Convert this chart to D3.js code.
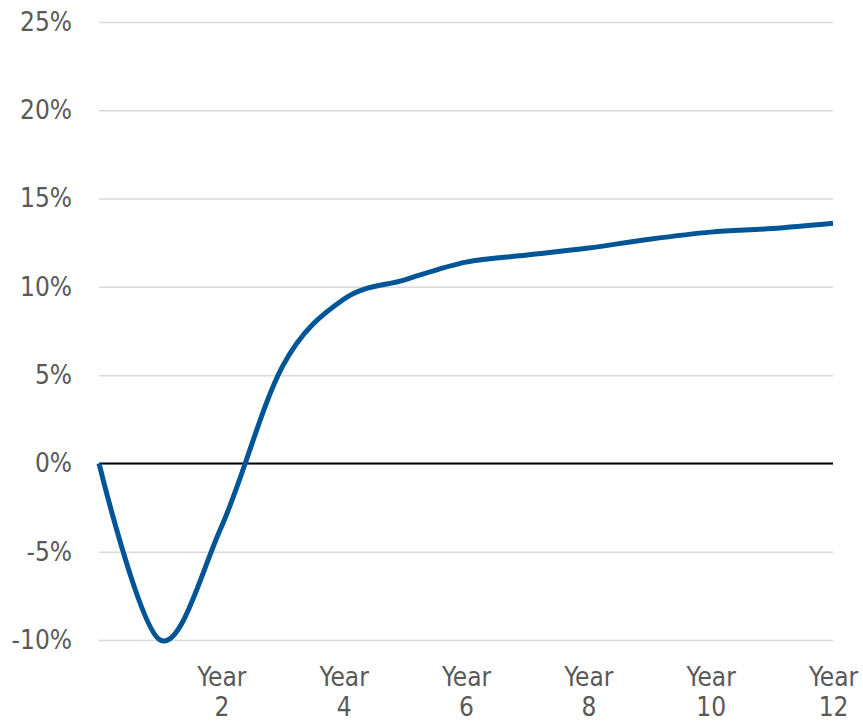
<!DOCTYPE html>
<html>
<head>
<meta charset="utf-8">
<script src="https://cdn.jsdelivr.net/npm/d3@7"></script>
<style>
  html, body { margin: 0; padding: 0; background: #fff; }
  svg { display: block; }
  .tick text { font-family: "DejaVu Sans Condensed", "DejaVu Sans", sans-serif; font-size: 26px; fill: #595959; }
</style>
</head>
<body>
<svg id="chart" width="863" height="721"></svg>
<script>
// Cumulative return by year (percent)
const years = [0, 1, 2, 3, 4, 5, 6, 7, 8, 9, 10, 11, 12];
const returns = [0, -10, -3.6, 5.5, 9.3, 10.4, 11.4, 11.8, 12.2, 12.7, 13.1, 13.3, 13.6];
const xTickYears = [2, 4, 6, 8, 10, 12];
const yTicks = [-10, -5, 0, 5, 10, 15, 20, 25];

const svg = d3.select("#chart");
const plotLeft = 99, plotRight = 833, plotTop = 22, plotBottom = 640;

const x = d3.scaleLinear().domain([0, 12]).range([plotLeft, plotRight]);
const y = d3.scaleLinear().domain([-10, 25]).range([plotBottom, plotTop]);

// Horizontal gridlines
const grid = svg.append("g")
  .attr("transform", `translate(${plotLeft},0)`)
  .call(d3.axisLeft(y).tickValues(yTicks).tickSize(-(plotRight - plotLeft)).tickFormat(""));
grid.select(".domain").remove();
grid.selectAll(".tick line").attr("stroke", "#d9d9d9").attr("stroke-width", 1.5);

// Y axis labels
const yAxis = svg.append("g")
  .attr("transform", `translate(${plotLeft},0)`)
  .call(d3.axisLeft(y).tickValues(yTicks).tickSize(0).tickPadding(27).tickFormat(d => d + "%"));
yAxis.select(".domain").remove();

// Zero baseline
svg.append("line")
  .attr("x1", plotLeft).attr("x2", plotRight)
  .attr("y1", y(0)).attr("y2", y(0))
  .attr("stroke", "#000").attr("stroke-width", 2);

// X axis labels (two lines: "Year" / number)
const xAxis = svg.append("g")
  .attr("transform", `translate(0,${plotBottom})`)
  .call(d3.axisBottom(x).tickValues(xTickYears).tickSize(0).tickFormat(""));
xAxis.select(".domain").remove();
xAxis.selectAll(".tick").each(function(d) {
  const t = d3.select(this).select("text").attr("y", 0).attr("dy", null);
  t.append("tspan").attr("x", 0).attr("y", 46).text("Year");
  t.append("tspan").attr("x", 0).attr("y", 76).text(d);
});

// Return line
const line = d3.line()
  .x((d, i) => x(years[i]))
  .y(d => y(d))
  .curve(d3.curveCardinal.tension(0));

svg.append("path")
  .datum(returns)
  .attr("d", line)
  .attr("fill", "none")
  .attr("stroke", "#005597")
  .attr("stroke-width", 5)
  .attr("stroke-linejoin", "round");
</script>
</body>
</html>
